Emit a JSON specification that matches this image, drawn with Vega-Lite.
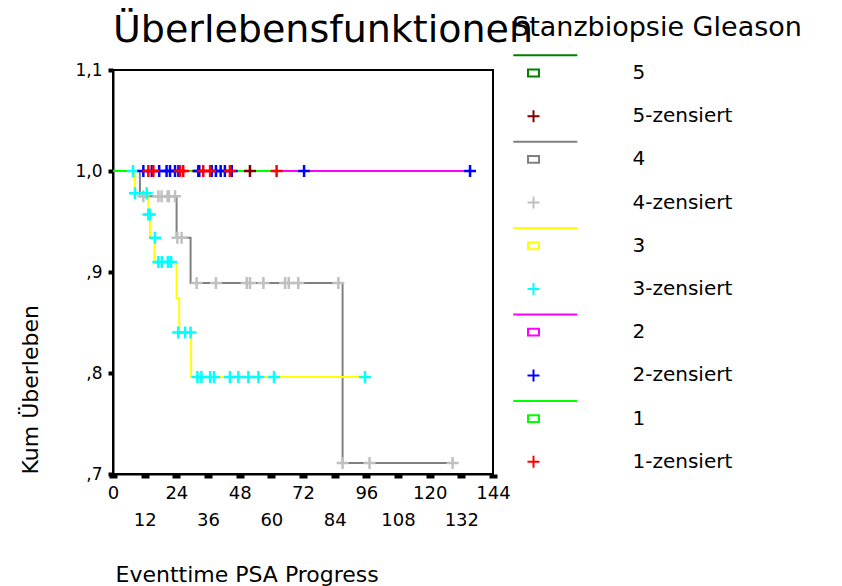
{
  "$schema": "https://vega.github.io/schema/vega-lite/v6.json",
  "width": 380,
  "height": 404,
  "autosize": "none",
  "padding": {"left": 113, "top": 70, "right": 349, "bottom": 112},
  "background": "white",
  "config": {
    "font": "DejaVu Sans",
    "view": {"stroke": "black", "strokeWidth": 2},
    "axis": {"grid": false, "domainColor": "black", "domainWidth": 2, "tickColor": "black", "labelColor": "black", "titleColor": "black", "labelFont": "DejaVu Sans", "titleFont": "DejaVu Sans", "titleFontWeight": "normal"},
    "legend": {"symbolOpacity": 1}
  },
  "title": {"text": "Überlebensfunktionen", "anchor": "start", "frame": "group", "font": "DejaVu Sans", "fontSize": 38, "fontWeight": "normal", "color": "black", "baseline": "alphabetic", "offset": 27, "dy": 92},
  "datasets": {
    "steps": [
      {"g": "5", "t": 0, "s": 1}, {"g": "5", "t": 51.9, "s": 1},
      {"g": "4", "t": 0, "s": 1}, {"g": "4", "t": 10.2, "s": 0.975}, {"g": "4", "t": 24.1, "s": 0.934}, {"g": "4", "t": 29.4, "s": 0.889}, {"g": "4", "t": 87.0, "s": 0.711}, {"g": "4", "t": 128.7, "s": 0.711},
      {"g": "3", "t": 0, "s": 1}, {"g": "3", "t": 8.3, "s": 0.978}, {"g": "3", "t": 13.4, "s": 0.957}, {"g": "3", "t": 14.0, "s": 0.934}, {"g": "3", "t": 15.7, "s": 0.91}, {"g": "3", "t": 24.1, "s": 0.874}, {"g": "3", "t": 25.1, "s": 0.84}, {"g": "3", "t": 29.6, "s": 0.796}, {"g": "3", "t": 95.5, "s": 0.796},
      {"g": "2", "t": 0, "s": 1}, {"g": "2", "t": 135.3, "s": 1},
      {"g": "1", "t": 0, "s": 1}, {"g": "1", "t": 62.0, "s": 1}
    ],
    "cens": [
      {"e": "5-zensiert", "t": 32.3, "s": 1}, {"e": "5-zensiert", "t": 51.9, "s": 1},
      {"e": "4-zensiert", "t": 11.5, "s": 0.975}, {"e": "4-zensiert", "t": 17.2, "s": 0.975}, {"e": "4-zensiert", "t": 18.4, "s": 0.975}, {"e": "4-zensiert", "t": 20.7, "s": 0.975}, {"e": "4-zensiert", "t": 21.2, "s": 0.975}, {"e": "4-zensiert", "t": 23.5, "s": 0.975},
      {"e": "4-zensiert", "t": 24.4, "s": 0.934}, {"e": "4-zensiert", "t": 26.0, "s": 0.934},
      {"e": "4-zensiert", "t": 31.7, "s": 0.889}, {"e": "4-zensiert", "t": 39.0, "s": 0.889}, {"e": "4-zensiert", "t": 50.7, "s": 0.889}, {"e": "4-zensiert", "t": 51.9, "s": 0.889}, {"e": "4-zensiert", "t": 57.0, "s": 0.889}, {"e": "4-zensiert", "t": 65.2, "s": 0.889}, {"e": "4-zensiert", "t": 66.6, "s": 0.889}, {"e": "4-zensiert", "t": 70.2, "s": 0.889}, {"e": "4-zensiert", "t": 85.4, "s": 0.889},
      {"e": "4-zensiert", "t": 87.0, "s": 0.711}, {"e": "4-zensiert", "t": 97.2, "s": 0.711}, {"e": "4-zensiert", "t": 128.7, "s": 0.711},
      {"e": "3-zensiert", "t": 7.6, "s": 1}, {"e": "3-zensiert", "t": 8.3, "s": 0.978}, {"e": "3-zensiert", "t": 12.8, "s": 0.978},
      {"e": "3-zensiert", "t": 13.4, "s": 0.957}, {"e": "3-zensiert", "t": 14.0, "s": 0.957},
      {"e": "3-zensiert", "t": 15.9, "s": 0.934},
      {"e": "3-zensiert", "t": 17.2, "s": 0.91}, {"e": "3-zensiert", "t": 18.5, "s": 0.91}, {"e": "3-zensiert", "t": 20.8, "s": 0.91}, {"e": "3-zensiert", "t": 22.0, "s": 0.91},
      {"e": "3-zensiert", "t": 24.7, "s": 0.84}, {"e": "3-zensiert", "t": 27.3, "s": 0.84}, {"e": "3-zensiert", "t": 29.4, "s": 0.84},
      {"e": "3-zensiert", "t": 32.0, "s": 0.796}, {"e": "3-zensiert", "t": 33.5, "s": 0.796}, {"e": "3-zensiert", "t": 36.8, "s": 0.796}, {"e": "3-zensiert", "t": 38.3, "s": 0.796}, {"e": "3-zensiert", "t": 44.3, "s": 0.796}, {"e": "3-zensiert", "t": 47.5, "s": 0.796}, {"e": "3-zensiert", "t": 51.3, "s": 0.796}, {"e": "3-zensiert", "t": 55.1, "s": 0.796}, {"e": "3-zensiert", "t": 61.0, "s": 0.796}, {"e": "3-zensiert", "t": 95.5, "s": 0.796},
      {"e": "2-zensiert", "t": 11.5, "s": 1}, {"e": "2-zensiert", "t": 14.7, "s": 1}, {"e": "2-zensiert", "t": 17.5, "s": 1}, {"e": "2-zensiert", "t": 20.3, "s": 1}, {"e": "2-zensiert", "t": 21.6, "s": 1}, {"e": "2-zensiert", "t": 23.5, "s": 1}, {"e": "2-zensiert", "t": 24.8, "s": 1}, {"e": "2-zensiert", "t": 32.7, "s": 1}, {"e": "2-zensiert", "t": 37.4, "s": 1}, {"e": "2-zensiert", "t": 39.0, "s": 1}, {"e": "2-zensiert", "t": 40.8, "s": 1}, {"e": "2-zensiert", "t": 42.4, "s": 1}, {"e": "2-zensiert", "t": 45.0, "s": 1}, {"e": "2-zensiert", "t": 72.4, "s": 1}, {"e": "2-zensiert", "t": 135.3, "s": 1},
      {"e": "1-zensiert", "t": 13.4, "s": 1}, {"e": "1-zensiert", "t": 15.3, "s": 1}, {"e": "1-zensiert", "t": 25.4, "s": 1}, {"e": "1-zensiert", "t": 26.6, "s": 1}, {"e": "1-zensiert", "t": 34.2, "s": 1}, {"e": "1-zensiert", "t": 36.8, "s": 1}, {"e": "1-zensiert", "t": 44.3, "s": 1}, {"e": "1-zensiert", "t": 62.0, "s": 1}
    ]
  },
  "encoding": {
    "x": {
      "field": "t", "type": "quantitative",
      "scale": {"domain": [0, 144], "nice": false, "zero": false},
      "axis": {
        "values": [0, 12, 24, 36, 48, 60, 72, 84, 96, 108, 120, 132, 144],
        "labelExpr": "datum.value % 24 == 0 ? datum.label : ['', datum.label]",
        "labelLineHeight": 27, "labelFontSize": 18, "labelPadding": 6, "labelFlush": false, "labelOverlap": false,
        "tickSize": 4, "tickWidth": 8,
        "title": "Eventtime PSA Progress", "titleFontSize": 22, "titleAnchor": "start", "titleAlign": "left", "titleBaseline": "alphabetic", "titleX": 2, "titleY": 107
      }
    },
    "y": {
      "field": "s", "type": "quantitative",
      "scale": {"domain": [0.7, 1.1], "nice": false, "zero": false},
      "axis": {
        "values": [0.7, 0.8, 0.9, 1.0, 1.1],
        "labelExpr": "datum.value < 0.99 ? ',' + format(datum.value * 10, '.0f') : replace(format(datum.value, '.1f'), '.', ',')",
        "labelFontSize": 17, "labelPadding": 6, "labelFlush": false, "labelOverlap": false,
        "tickSize": 5, "tickWidth": 4,
        "title": "Kum Überleben", "titleFontSize": 22, "titleAngle": 270, "titleAlign": "left", "titleBaseline": "alphabetic", "titleX": -76, "titleY": 404
      }
    }
  },
  "layer": [
    {
      "data": {"name": "steps"},
      "transform": [{"filter": "datum.g == '5'"}],
      "mark": {"type": "line", "interpolate": "step-after", "strokeWidth": 2, "color": "#008000"},
      "encoding": {}
    },
    {
      "data": {"name": "steps"},
      "transform": [{"filter": "datum.g == '4'"}],
      "mark": {"type": "line", "interpolate": "step-after", "strokeWidth": 2, "color": "#808080"},
      "encoding": {}
    },
    {
      "data": {"name": "steps"},
      "transform": [{"filter": "datum.g == '3'"}],
      "mark": {"type": "line", "interpolate": "step-after", "strokeWidth": 2, "color": "#ffff00"},
      "encoding": {}
    },
    {
      "data": {"name": "steps"},
      "transform": [{"filter": "datum.g == '2'"}],
      "mark": {"type": "line", "interpolate": "step-after", "strokeWidth": 2, "color": "#ff00ff"},
      "encoding": {}
    },
    {
      "data": {"name": "steps"},
      "transform": [{"filter": "datum.g == '1'"}],
      "mark": {"type": "line", "interpolate": "step-after", "strokeWidth": 2, "color": "#00ff00"},
      "encoding": {}
    },
    {
      "data": {"name": "cens"},
      "mark": {"type": "point", "filled": false, "size": 144, "strokeWidth": 2.5, "opacity": 1},
      "encoding": {
        "color": {"field": "e", "type": "nominal",
          "scale": {"domain": ["5", "5-zensiert", "4", "4-zensiert", "3", "3-zensiert", "2", "2-zensiert", "1", "1-zensiert"],
                    "range": ["#008000", "#800000", "#808080", "#c0c0c0", "#ffff00", "#00ffff", "#ff00ff", "#0000ff", "#00ff00", "#ff0000"]},
          "legend": {
            "title": "Stanzbiopsie Gleason", "orient": "none", "legendX": 399, "legendY": -55,
            "titleFont": "DejaVu Sans", "titleFontSize": 27, "titleFontWeight": "normal", "titleColor": "black", "titlePadding": 11, "titleLimit": 500,
            "labelFont": "DejaVu Sans", "labelFontSize": 20, "labelColor": "black", "labelOffset": 89, "labelLimit": 300,
            "symbolSize": 144, "symbolStrokeWidth": 2, "symbolOffset": 11.5, "clipHeight": 40, "rowPadding": 3.2, "padding": 0
          }
        },
        "shape": {"field": "e", "type": "nominal",
          "scale": {"domain": ["5", "5-zensiert", "4", "4-zensiert", "3", "3-zensiert", "2", "2-zensiert", "1", "1-zensiert"],
                    "range": ["M-3.37,-2.95H7.3M-0.92,-0.57H0.92V0.57H-0.92Z", "M-1,0H1M0,-1V1", "M-3.37,-2.95H7.3M-0.92,-0.57H0.92V0.57H-0.92Z", "M-1,0H1M0,-1V1", "M-3.37,-2.95H7.3M-0.92,-0.57H0.92V0.57H-0.92Z", "M-1,0H1M0,-1V1", "M-3.37,-2.95H7.3M-0.92,-0.57H0.92V0.57H-0.92Z", "M-1,0H1M0,-1V1", "M-3.37,-2.95H7.3M-0.92,-0.57H0.92V0.57H-0.92Z", "M-1,0H1M0,-1V1"]},
          "legend": {
            "title": "Stanzbiopsie Gleason", "orient": "none", "legendX": 399, "legendY": -55,
            "titleFont": "DejaVu Sans", "titleFontSize": 27, "titleFontWeight": "normal", "titleColor": "black", "titlePadding": 11, "titleLimit": 500,
            "labelFont": "DejaVu Sans", "labelFontSize": 20, "labelColor": "black", "labelOffset": 89, "labelLimit": 300,
            "symbolSize": 144, "symbolStrokeWidth": 2, "symbolOffset": 11.5, "clipHeight": 40, "rowPadding": 3.2, "padding": 0
          }
        }
      }
    }
  ]
}
